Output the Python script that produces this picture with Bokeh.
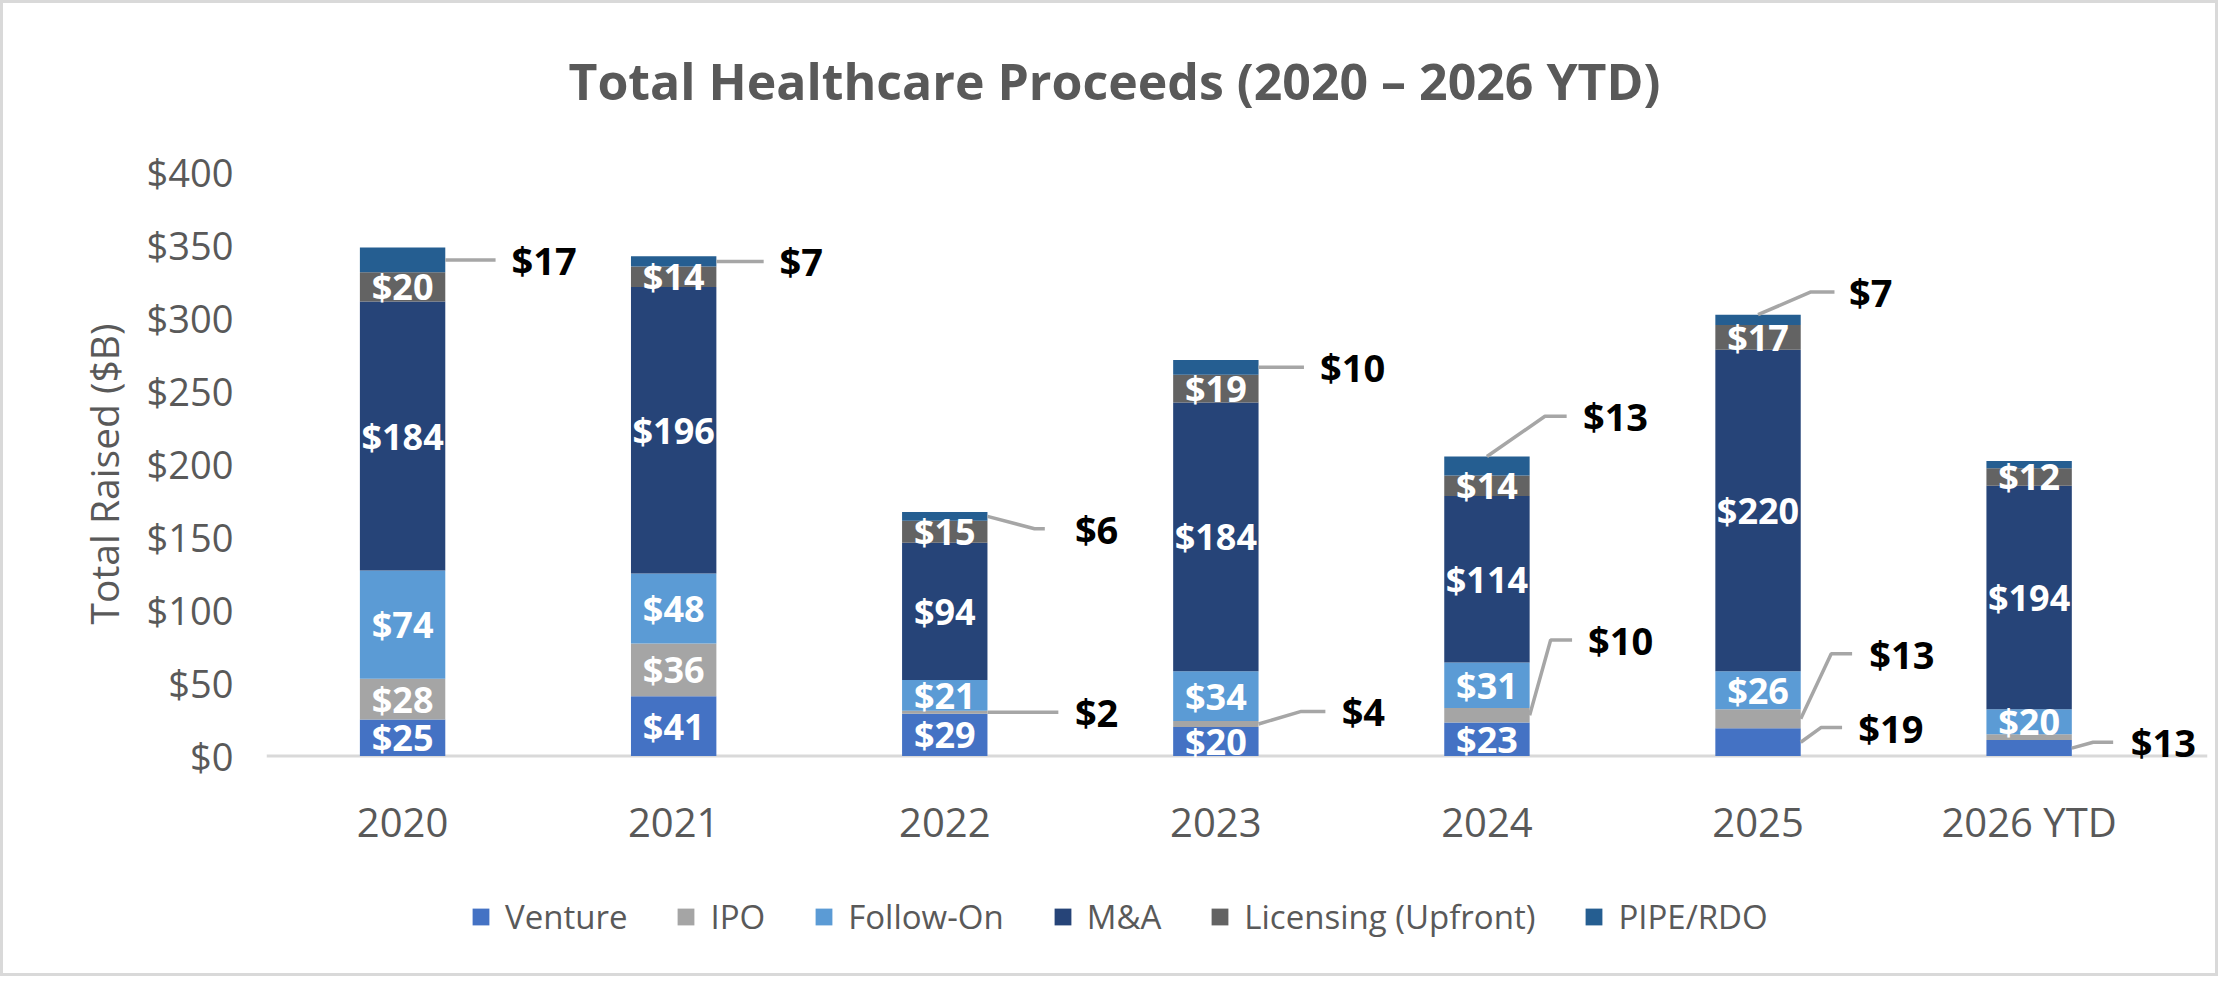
import numpy as np
from bokeh.plotting import figure
from bokeh.layouts import column
from bokeh.models import ColumnDataSource, Range1d, FixedTicker, Legend, LegendItem, Title, Span, Label
from bokeh.core.properties import value
from bokeh.embed import file_html
from bokeh.resources import INLINE

# ---------------- data ----------------
years = ["2020", "2021", "2022", "2023", "2024", "2025", "2026 YTD"]
series_names = ["Venture", "IPO", "Follow-On", "M&A", "Licensing (Upfront)", "PIPE/RDO"]
colors = ["#4472C4", "#A5A5A5", "#5B9BD5", "#264478", "#636363", "#255E91"]

# segment heights ($B) as drawn
venture   = [25, 41, 29, 20, 23, 19, 11]
ipo       = [28, 36, 2, 4, 10, 13, 4]
follow_on = [74, 48, 21, 34, 31, 26, 17]
m_and_a   = [184, 196, 94, 184, 114, 220, 153]
licensing = [20, 14, 15, 19, 14, 17, 12]
pipe_rdo  = [17, 7, 6, 10, 13, 7, 5]

# data-label values as printed on the chart (None = no label)
venture_lbl   = [25, 41, 29, 20, 23, 19, 13]
ipo_lbl       = [28, 36, 2, 4, 10, 13, None]
follow_on_lbl = [74, 48, 21, 34, 31, 26, 20]
m_and_a_lbl   = [184, 196, 94, 184, 114, 220, 194]
licensing_lbl = [20, 14, 15, 19, 14, 17, 12]
pipe_rdo_lbl  = [17, 7, 6, 10, 13, 7, None]

y_ticks = [0, 50, 100, 150, 200, 250, 300, 350, 400]

TITLE = "Total Healthcare Proceeds (2020 \u2013 2026 YTD)"
Y_TITLE = "Total Raised ($B)"

# callout (outside) labels: year index, series index and leader layout
co_year     = [0, 1, 2, 2, 3, 3, 4, 4, 5, 5, 5, 6]
co_series   = [5, 5, 5, 1, 5, 1, 5, 1, 5, 1, 0, 0]
co_from_top = [False, False, False, False, False, False, True, False, True, False, False, False]
co_elbow_dx = [None, None, 0.331, None, None, 0.315, 0.214, 0.235, 0.193, 0.27, 0.232, 0.236]
co_end_dx   = [0.343, 0.332, 0.369, 0.419, 0.325, 0.404, 0.294, 0.314, 0.282, 0.347, 0.31, 0.31]
co_label_y  = [None, None, 155.6, None, None, 30.6, 232.5, 79.4, 317.5, 70, 19.5, 9.5]
co_text_dx  = [0.402, 0.39, 0.48, 0.48, 0.384, 0.464, 0.354, 0.373, 0.336, 0.41, 0.37, 0.375]

BAR_W = 0.315
FONT = "Open Sans"
GRAY_TXT = "#595959"
W = 2212
H_HEAD, H_MAIN, H_LEG = 130, 730, 110
X0, X1 = -0.502, 6.658
BORDERS = dict(min_border_left=263, min_border_right=8)


def strip_figure(h):
    f = figure(width=W, height=h, output_backend="svg", toolbar_location=None,
               x_range=Range1d(X0, X1), y_range=Range1d(0, h),
               x_axis_location=None, y_axis_location=None,
               min_border_top=0, min_border_bottom=0, **BORDERS)
    f.outline_line_color = None
    f.background_fill_color = "white"
    f.border_fill_color = "white"
    f.xgrid.grid_line_color = None
    f.ygrid.grid_line_color = None
    return f


# ---------------- header (chart title) ----------------
head = strip_figure(H_HEAD)
head.add_layout(Label(x=2.626, y=53, text=TITLE, text_align="center", text_baseline="middle",
                      text_font=FONT, text_font_style="bold", text_font_size="50px",
                      text_color=GRAY_TXT))

# ---------------- main chart ----------------
p = figure(width=W, height=H_MAIN, output_backend="svg", toolbar_location=None,
           x_range=Range1d(X0, X1), y_range=Range1d(-16, 400),
           min_border_top=38, min_border_bottom=84, **BORDERS)
p.background_fill_color = "white"
p.border_fill_color = "white"
p.outline_line_color = None
p.xgrid.grid_line_color = None
p.ygrid.grid_line_color = None

xs = np.arange(len(years))
vals = np.array([venture, ipo, follow_on, m_and_a, licensing, pipe_rdo], dtype=float)
lbls = [venture_lbl, ipo_lbl, follow_on_lbl, m_and_a_lbl, licensing_lbl, pipe_rdo_lbl]
keys = ["s%d" % i for i in range(len(series_names))]
src = ColumnDataSource(dict(x=xs, **{k: vals[i] for i, k in enumerate(keys)}))

# category axis line at $0 (drawn beneath the marks)
p.add_layout(Span(location=0, dimension="width", line_color="#D9D9D9", line_width=3,
                  level="underlay"))

renderers = p.vbar_stack(keys, x="x", width=BAR_W, fill_color=colors, line_color=None, source=src)

tops = np.cumsum(vals, axis=0)
bots = tops - vals
mids = (tops + bots) / 2.0

# inside labels
outside = set(zip(co_year, co_series))
in_x, in_y, in_t = [], [], []
for s in range(len(series_names)):
    for i in range(len(years)):
        if lbls[s][i] is not None and (i, s) not in outside:
            in_x.append(float(xs[i])); in_y.append(float(mids[s, i])); in_t.append("$%d" % lbls[s][i])
p.text(x=in_x, y=in_y, text=in_t, text_font=value(FONT), text_font_style="bold",
       text_font_size="36px", text_color="white", text_align="center", text_baseline="middle")

# callouts with leader lines
lx, ly, tx, ty, tt = [], [], [], [], []
for k in range(len(co_year)):
    i, s = co_year[k], co_series[k]
    if co_from_top[k]:
        sx, sy = xs[i], tops[s, i]
    else:
        sx, sy = xs[i] + BAR_W / 2, mids[s, i]
    yl = sy if co_label_y[k] is None else co_label_y[k]
    ex = sx if co_elbow_dx[k] is None else xs[i] + co_elbow_dx[k]
    lx.append([float(sx), float(ex), float(xs[i] + co_end_dx[k])])
    ly.append([float(sy), float(yl), float(yl)])
    tx.append(float(xs[i] + co_text_dx[k])); ty.append(float(yl)); tt.append("$%d" % lbls[s][i])
p.multi_line(xs=lx, ys=ly, line_color="#A6A6A6", line_width=3.5)
p.text(x=tx, y=ty, text=tt, text_font=value(FONT), text_font_style="bold",
       text_font_size="38px", text_color="black", text_align="left", text_baseline="middle")

# axes
p.xaxis.ticker = FixedTicker(ticks=list(range(len(years))))
p.xaxis.major_label_overrides = {i: y for i, y in enumerate(years)}
p.xaxis.major_tick_line_color = None
p.xaxis.minor_tick_line_color = None
p.xaxis.axis_line_color = None
p.xaxis.major_label_text_font = FONT
p.xaxis.major_label_text_font_size = "40px"
p.xaxis.major_label_text_color = GRAY_TXT
p.xaxis.major_label_standoff = 8

p.yaxis.ticker = FixedTicker(ticks=y_ticks)
p.yaxis.major_label_overrides = {v: "$%d" % v for v in y_ticks}
p.yaxis.major_tick_line_color = None
p.yaxis.minor_tick_line_color = None
p.yaxis.axis_line_color = None
p.yaxis.major_label_text_font = FONT
p.yaxis.major_label_text_font_size = "38px"
p.yaxis.major_label_text_color = GRAY_TXT
p.yaxis.major_label_standoff = 27

p.add_layout(Title(text=Y_TITLE, align="left", offset=155, text_font=FONT,
                   text_font_style="normal", text_font_size="39px", text_color=GRAY_TXT,
                   standoff=28), "left")

# ---------------- legend strip ----------------
leg = strip_figure(H_LEG)
leg_renderers = [leg.vbar(x=[-100], bottom=[0], top=[0], width=0.1, fill_color=c, line_color=None)
                 for c in colors]
items = [LegendItem(label=n, renderers=[r]) for n, r in zip(series_names, leg_renderers)]
legend = Legend(items=items, orientation="horizontal", location=(204, 34),
                glyph_width=21, glyph_height=21, label_standoff=14, spacing=48,
                padding=0, margin=0, border_line_color=None, background_fill_alpha=0,
                label_text_font=FONT, label_text_font_size="33px", label_text_color=GRAY_TXT)
leg.add_layout(legend, "center")

page = column(head, p, leg, spacing=0, styles={"border": "3px solid #D9D9D9"})
open("out.html", "w").write(file_html(page, INLINE))
